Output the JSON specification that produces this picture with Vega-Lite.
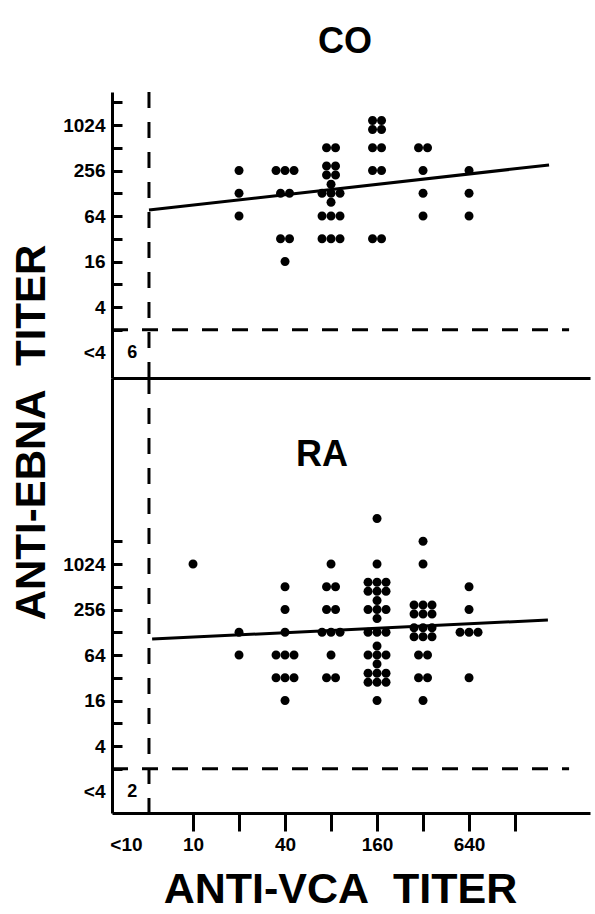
{
  "$schema": "https://vega.github.io/schema/vega-lite/v6.json",
  "background": "white",
  "padding": {"left": 10, "top": 23, "right": 5, "bottom": 5},
  "spacing": 0,
  "bounds": "flush",
  "config": {
    "font": "Liberation Sans",
    "view": {"stroke": null},
    "title": {"font": "Liberation Sans", "fontWeight": "bold", "color": "black"},
    "axis": {
      "grid": false,
      "domainColor": "black",
      "domainWidth": 3,
      "tickWidth": 3,
      "labelFont": "Liberation Sans",
      "labelFontWeight": "bold",
      "labelColor": "black",
      "labelFontSize": 19,
      "labelOverlap": false,
      "labelFlush": false,
      "titleFont": "Liberation Sans",
      "titleFontWeight": "bold",
      "titleColor": "black"
    }
  },
  "datasets": {
    "co": [
      {"vca": 20, "ebna": 256, "s": "0,0"},
      {"vca": 20, "ebna": 128, "s": "0,0"},
      {"vca": 20, "ebna": 64, "s": "0,0"},
      {"vca": 40, "ebna": 256, "s": "-1,0"},
      {"vca": 40, "ebna": 256, "s": "0,0"},
      {"vca": 40, "ebna": 256, "s": "1,0"},
      {"vca": 40, "ebna": 128, "s": "-0.5,0"},
      {"vca": 40, "ebna": 128, "s": "0.5,0"},
      {"vca": 40, "ebna": 32, "s": "-0.5,0"},
      {"vca": 40, "ebna": 32, "s": "0.5,0"},
      {"vca": 40, "ebna": 16, "s": "0,0"},
      {"vca": 80, "ebna": 512, "s": "-0.5,0"},
      {"vca": 80, "ebna": 512, "s": "0.5,0"},
      {"vca": 80, "ebna": 256, "s": "-0.5,0.5"},
      {"vca": 80, "ebna": 256, "s": "0.5,0.5"},
      {"vca": 80, "ebna": 256, "s": "-0.5,-0.5"},
      {"vca": 80, "ebna": 256, "s": "0.5,-0.5"},
      {"vca": 80, "ebna": 128, "s": "0,0"},
      {"vca": 80, "ebna": 128, "s": "-1,0"},
      {"vca": 80, "ebna": 128, "s": "1,0"},
      {"vca": 80, "ebna": 128, "s": "0,1"},
      {"vca": 80, "ebna": 128, "s": "0,-1"},
      {"vca": 80, "ebna": 64, "s": "-1,0"},
      {"vca": 80, "ebna": 64, "s": "0,0"},
      {"vca": 80, "ebna": 64, "s": "1,0"},
      {"vca": 80, "ebna": 32, "s": "-1,0"},
      {"vca": 80, "ebna": 32, "s": "0,0"},
      {"vca": 80, "ebna": 32, "s": "1,0"},
      {"vca": 160, "ebna": 1024, "s": "-0.5,0.5"},
      {"vca": 160, "ebna": 1024, "s": "0.5,0.5"},
      {"vca": 160, "ebna": 1024, "s": "-0.5,-0.5"},
      {"vca": 160, "ebna": 1024, "s": "0.5,-0.5"},
      {"vca": 160, "ebna": 512, "s": "-0.5,0"},
      {"vca": 160, "ebna": 512, "s": "0.5,0"},
      {"vca": 160, "ebna": 256, "s": "-0.5,0"},
      {"vca": 160, "ebna": 256, "s": "0.5,0"},
      {"vca": 160, "ebna": 32, "s": "-0.5,0"},
      {"vca": 160, "ebna": 32, "s": "0.5,0"},
      {"vca": 320, "ebna": 512, "s": "-0.5,0"},
      {"vca": 320, "ebna": 512, "s": "0.5,0"},
      {"vca": 320, "ebna": 256, "s": "0,0"},
      {"vca": 320, "ebna": 128, "s": "0,0"},
      {"vca": 320, "ebna": 64, "s": "0,0"},
      {"vca": 640, "ebna": 256, "s": "0,0"},
      {"vca": 640, "ebna": 128, "s": "0,0"},
      {"vca": 640, "ebna": 64, "s": "0,0"}
    ],
    "ra": [
      {"vca": 10, "ebna": 1024, "s": "0,0"},
      {"vca": 20, "ebna": 128, "s": "0,0"},
      {"vca": 20, "ebna": 64, "s": "0,0"},
      {"vca": 40, "ebna": 512, "s": "0,0"},
      {"vca": 40, "ebna": 256, "s": "0,0"},
      {"vca": 40, "ebna": 128, "s": "0,0"},
      {"vca": 40, "ebna": 64, "s": "-1,0"},
      {"vca": 40, "ebna": 64, "s": "0,0"},
      {"vca": 40, "ebna": 64, "s": "1,0"},
      {"vca": 40, "ebna": 32, "s": "-1,0"},
      {"vca": 40, "ebna": 32, "s": "0,0"},
      {"vca": 40, "ebna": 32, "s": "1,0"},
      {"vca": 40, "ebna": 16, "s": "0,0"},
      {"vca": 80, "ebna": 1024, "s": "0,0"},
      {"vca": 80, "ebna": 512, "s": "-0.5,0"},
      {"vca": 80, "ebna": 512, "s": "0.5,0"},
      {"vca": 80, "ebna": 256, "s": "-0.5,0"},
      {"vca": 80, "ebna": 256, "s": "0.5,0"},
      {"vca": 80, "ebna": 128, "s": "-1,0"},
      {"vca": 80, "ebna": 128, "s": "0,0"},
      {"vca": 80, "ebna": 128, "s": "1,0"},
      {"vca": 80, "ebna": 64, "s": "0,0"},
      {"vca": 80, "ebna": 32, "s": "-0.5,0"},
      {"vca": 80, "ebna": 32, "s": "0.5,0"},
      {"vca": 160, "ebna": 4096, "s": "0,0"},
      {"vca": 160, "ebna": 1024, "s": "0,0"},
      {"vca": 160, "ebna": 512, "s": "-1,0.5"},
      {"vca": 160, "ebna": 512, "s": "0,0.5"},
      {"vca": 160, "ebna": 512, "s": "1,0.5"},
      {"vca": 160, "ebna": 512, "s": "-1,-0.5"},
      {"vca": 160, "ebna": 512, "s": "0,-0.5"},
      {"vca": 160, "ebna": 512, "s": "1,-0.5"},
      {"vca": 160, "ebna": 256, "s": "0,0"},
      {"vca": 160, "ebna": 256, "s": "-1,0"},
      {"vca": 160, "ebna": 256, "s": "1,0"},
      {"vca": 160, "ebna": 256, "s": "0,1"},
      {"vca": 160, "ebna": 256, "s": "0,-1"},
      {"vca": 160, "ebna": 128, "s": "-1,0"},
      {"vca": 160, "ebna": 128, "s": "0,0"},
      {"vca": 160, "ebna": 128, "s": "1,0"},
      {"vca": 160, "ebna": 64, "s": "0,0"},
      {"vca": 160, "ebna": 64, "s": "-1,0"},
      {"vca": 160, "ebna": 64, "s": "1,0"},
      {"vca": 160, "ebna": 64, "s": "0,1"},
      {"vca": 160, "ebna": 64, "s": "0,-1"},
      {"vca": 160, "ebna": 32, "s": "-1,0.5"},
      {"vca": 160, "ebna": 32, "s": "0,0.5"},
      {"vca": 160, "ebna": 32, "s": "1,0.5"},
      {"vca": 160, "ebna": 32, "s": "-1,-0.5"},
      {"vca": 160, "ebna": 32, "s": "0,-0.5"},
      {"vca": 160, "ebna": 32, "s": "1,-0.5"},
      {"vca": 160, "ebna": 16, "s": "0,0"},
      {"vca": 320, "ebna": 2048, "s": "0,0"},
      {"vca": 320, "ebna": 1024, "s": "0,0"},
      {"vca": 320, "ebna": 256, "s": "-1,0.5"},
      {"vca": 320, "ebna": 256, "s": "0,0.5"},
      {"vca": 320, "ebna": 256, "s": "1,0.5"},
      {"vca": 320, "ebna": 256, "s": "-1,-0.5"},
      {"vca": 320, "ebna": 256, "s": "0,-0.5"},
      {"vca": 320, "ebna": 256, "s": "1,-0.5"},
      {"vca": 320, "ebna": 128, "s": "-1,0.5"},
      {"vca": 320, "ebna": 128, "s": "0,0.5"},
      {"vca": 320, "ebna": 128, "s": "1,0.5"},
      {"vca": 320, "ebna": 128, "s": "-1,-0.5"},
      {"vca": 320, "ebna": 128, "s": "0,-0.5"},
      {"vca": 320, "ebna": 128, "s": "1,-0.5"},
      {"vca": 320, "ebna": 64, "s": "-0.5,0"},
      {"vca": 320, "ebna": 64, "s": "0.5,0"},
      {"vca": 320, "ebna": 32, "s": "-0.5,0"},
      {"vca": 320, "ebna": 32, "s": "0.5,0"},
      {"vca": 320, "ebna": 16, "s": "0,0"},
      {"vca": 640, "ebna": 512, "s": "0,0"},
      {"vca": 640, "ebna": 256, "s": "0,0"},
      {"vca": 640, "ebna": 128, "s": "-1,0"},
      {"vca": 640, "ebna": 128, "s": "0,0"},
      {"vca": 640, "ebna": 128, "s": "1,0"},
      {"vca": 640, "ebna": 32, "s": "0,0"}
    ],
    "coFit": [{"vca": 5.15, "ebna": 77}, {"vca": 2137, "ebna": 303}],
    "raFit": [{"vca": 5.4, "ebna": 104}, {"vca": 2100, "ebna": 186}],
    "coBelow": [{"vca": 4, "ebna": 1, "n": "6"}],
    "raBelow": [{"vca": 4, "ebna": 1, "n": "2"}]
  },
  "vconcat": [
    {
      "width": 478,
      "height": 286,
      "title": {"text": "CO", "fontSize": 36, "offset": 30, "anchor": "middle", "dx": -6},
      "layer": [
        {"data": {"name": "co"},
          "mark": {"type": "point", "filled": true, "size": 81, "opacity": 1, "color": "black", "strokeWidth": 0},
          "encoding": {
            "x": {"field": "vca", "type": "quantitative",
              "scale": {"type": "log", "base": 2, "domain": [2.95, 3960], "nice": false},
              "axis": {"ticks": false, "labels": false, "title": null}},
            "y": {"field": "ebna", "type": "quantitative",
              "scale": {"type": "log", "base": 2, "domain": [0.46, 2800], "nice": false},
              "axis": {
                "values": [1, 2, 4, 8, 16, 32, 64, 128, 256, 512, 1024, 2048],
                "format": "d",
                "labelExpr": "datum.value == 1 ? '<4' : ((datum.value == 4 || datum.value == 16 || datum.value == 64 || datum.value == 256 || datum.value == 1024) ? datum.label : '')",
                "tickSize": -10,
                "tickColor": {"condition": {"test": "datum.value == 1", "value": "transparent"}, "value": "black"},
                "labelPadding": 17,
                "title": "ANTI-EBNA\u00a0\u00a0TITER",
                "titleFontSize": 42,
                "titleAngle": -90,
                "titleX": -81,
                "titleY": 340,
                "titleAlign": "center",
                "titleBaseline": "middle"
              }},
            "shape": {"field": "s", "type": "nominal", "legend": null,
              "scale": {
                "domain": ["0,0", "-1,0", "1,0", "-0.5,0", "0.5,0", "-0.5,0.5", "0.5,0.5", "-0.5,-0.5", "0.5,-0.5", "0,1", "0,-1", "-1,0.5", "0,0.5", "1,0.5", "-1,-0.5", "0,-0.5", "1,-0.5"],
                "range": [
                  "M-1,0A1,1,0,1,0,1,0A1,1,0,1,0,-1,0Z",
                  "M-3,0A1,1,0,1,0,-1,0A1,1,0,1,0,-3,0Z",
                  "M1,0A1,1,0,1,0,3,0A1,1,0,1,0,1,0Z",
                  "M-2,0A1,1,0,1,0,0,0A1,1,0,1,0,-2,0Z",
                  "M0,0A1,1,0,1,0,2,0A1,1,0,1,0,0,0Z",
                  "M-2,-1A1,1,0,1,0,0,-1A1,1,0,1,0,-2,-1Z",
                  "M0,-1A1,1,0,1,0,2,-1A1,1,0,1,0,0,-1Z",
                  "M-2,1A1,1,0,1,0,0,1A1,1,0,1,0,-2,1Z",
                  "M0,1A1,1,0,1,0,2,1A1,1,0,1,0,0,1Z",
                  "M-1,-2A1,1,0,1,0,1,-2A1,1,0,1,0,-1,-2Z",
                  "M-1,2A1,1,0,1,0,1,2A1,1,0,1,0,-1,2Z",
                  "M-3,-1A1,1,0,1,0,-1,-1A1,1,0,1,0,-3,-1Z",
                  "M-1,-1A1,1,0,1,0,1,-1A1,1,0,1,0,-1,-1Z",
                  "M1,-1A1,1,0,1,0,3,-1A1,1,0,1,0,1,-1Z",
                  "M-3,1A1,1,0,1,0,-1,1A1,1,0,1,0,-3,1Z",
                  "M-1,1A1,1,0,1,0,1,1A1,1,0,1,0,-1,1Z",
                  "M1,1A1,1,0,1,0,3,1A1,1,0,1,0,1,1Z"
                ]}}
          }},
        {"data": {"name": "coFit"},
          "mark": {"type": "line", "color": "black", "strokeWidth": 3},
          "encoding": {
            "x": {"field": "vca", "type": "quantitative"},
            "y": {"field": "ebna", "type": "quantitative"}
          }},
        {"data": {"values": [{"v": 5.15}]},
          "mark": {"type": "rule", "color": "black", "strokeWidth": 3, "strokeDash": [16, 14]},
          "encoding": {"x": {"field": "v", "type": "quantitative"}}},
        {"data": {"values": [{"a": 2.95, "b": 2890, "h": 2}]},
          "mark": {"type": "rule", "color": "black", "strokeWidth": 3, "strokeDash": [16, 14]},
          "encoding": {
            "x": {"field": "a", "type": "quantitative"},
            "x2": {"field": "b"},
            "y": {"field": "h", "type": "quantitative"}
          }},
        {"data": {"name": "coBelow"},
          "mark": {"type": "text", "fontSize": 18, "fontWeight": "bold", "color": "black"},
          "encoding": {
            "x": {"field": "vca", "type": "quantitative"},
            "y": {"field": "ebna", "type": "quantitative"},
            "text": {"field": "n"}
          }}
      ]
    },
    {
      "width": 478,
      "height": 435,
      "title": {"text": "RA", "fontSize": 36, "offset": 0, "dy": 114, "baseline": "middle", "anchor": "middle", "dx": -29},
      "layer": [
        {"data": {"name": "ra"},
          "mark": {"type": "point", "filled": true, "size": 81, "opacity": 1, "color": "black", "strokeWidth": 0},
          "encoding": {
            "x": {"field": "vca", "type": "quantitative",
              "scale": {"type": "log", "base": 2, "domain": [2.95, 3960], "nice": false},
              "axis": {
                "values": [3.64, 10, 20, 40, 80, 160, 320, 640, 1280],
                "format": "d",
                "labelExpr": "datum.value < 5 ? '<10' : ((datum.value == 10 || datum.value == 40 || datum.value == 160 || datum.value == 640) ? datum.label : '')",
                "tickSize": 18,
                "tickColor": {"condition": {"test": "datum.value < 5", "value": "transparent"}, "value": "black"},
                "labelPadding": 4,
                "title": "ANTI-VCA\u00a0\u00a0TITER",
                "titleFontSize": 43,
                "titleX": 228,
                "titleY": 76,
                "titleBaseline": "middle"
              }},
            "y": {"field": "ebna", "type": "quantitative",
              "scale": {"type": "log", "base": 2, "domain": [0.52, 296000], "nice": false},
              "axis": {
                "values": [1, 2, 4, 8, 16, 32, 64, 128, 256, 512, 1024, 2048],
                "format": "d",
                "labelExpr": "datum.value == 1 ? '<4' : ((datum.value == 4 || datum.value == 16 || datum.value == 64 || datum.value == 256 || datum.value == 1024) ? datum.label : '')",
                "tickSize": -10,
                "tickColor": {"condition": {"test": "datum.value == 1", "value": "transparent"}, "value": "black"},
                "labelPadding": 17,
                "title": null
              }},
            "shape": {"field": "s", "type": "nominal", "legend": null}
          }},
        {"data": {"name": "raFit"},
          "mark": {"type": "line", "color": "black", "strokeWidth": 3},
          "encoding": {
            "x": {"field": "vca", "type": "quantitative"},
            "y": {"field": "ebna", "type": "quantitative"}
          }},
        {"data": {"values": [{"v": 5.15}]},
          "mark": {"type": "rule", "color": "black", "strokeWidth": 3, "strokeDash": [16, 14]},
          "encoding": {"x": {"field": "v", "type": "quantitative"}}},
        {"data": {"values": [{"a": 2.95, "b": 2890, "h": 2}]},
          "mark": {"type": "rule", "color": "black", "strokeWidth": 3, "strokeDash": [16, 14]},
          "encoding": {
            "x": {"field": "a", "type": "quantitative"},
            "x2": {"field": "b"},
            "y": {"field": "h", "type": "quantitative"}
          }},
        {"data": {"name": "raBelow"},
          "mark": {"type": "text", "fontSize": 18, "fontWeight": "bold", "color": "black"},
          "encoding": {
            "x": {"field": "vca", "type": "quantitative"},
            "y": {"field": "ebna", "type": "quantitative"},
            "text": {"field": "n"}
          }}
      ]
    }
  ]
}
